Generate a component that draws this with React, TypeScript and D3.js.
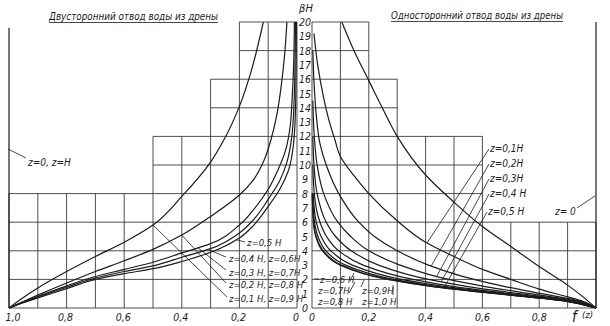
import React from "react";
import * as d3 from "d3";

// ---------- data ----------
const betaHTicks = [0, 1, 2, 3, 4, 5, 6, 7, 8, 9, 10, 11, 12, 13, 14, 15, 16, 17, 18, 19, 20];
const hGridLevels = [0, 2, 4, 6, 8, 10, 12, 14, 16, 18, 20];
const vGridLevels = [0, 0.1, 0.2, 0.3, 0.4, 0.5, 0.6, 0.7, 0.8, 0.9, 1.0];

// staircase grid: row tops (βH) and the f-extent of each row
const leftRowTops = [8, 12, 16, 20];
const leftRowWidths = [1.0, 0.5, 0.3, 0.2];
const rightRowTops = [6, 12, 16, 20];
const rightRowWidths = [1.0, 0.6, 0.3, 0.2];

const leftAxisTicks = [1.0, 0.8, 0.6, 0.4, 0.2, 0];
const leftAxisLabels = ["1,0", "0,8", "0,6", "0,4", "0,2", "0"];
const rightAxisTicks = [0, 0.2, 0.4, 0.6, 0.8];
const rightAxisLabels = ["0", "0,2", "0,4", "0,6", "0,8"];

const leftTitle = "Двусторонний отвод воды из дрены";
const rightTitle = "Односторонний отвод воды из дрены";

// curves: [f(z), βH]
// two-sided (left)
const L_z01 = [[1, 0], [0.96, 0.6], [0.9, 1.4], [0.8, 2.55], [0.7, 3.6], [0.6, 4.6], [0.5, 5.8], [0.4, 7.8], [0.3, 10.2], [0.25, 11.9], [0.2, 14.1], [0.16, 16.5], [0.117, 20]];
const L_z02 = [[1, 0], [0.95, 0.45], [0.9, 0.9], [0.8, 1.75], [0.7, 2.55], [0.6, 3.3], [0.5, 4.1], [0.4, 5.1], [0.3, 6.4], [0.2, 7.9], [0.15, 9.0], [0.115, 10.3], [0.09, 11.8], [0.07, 13.5], [0.055, 15.5], [0.043, 17.7], [0.035, 20]];
const L_z03 = [[1, 0], [0.95, 0.42], [0.9, 0.8], [0.8, 1.55], [0.7, 2.2], [0.6, 2.7], [0.5, 3.2], [0.4, 3.85], [0.3, 4.5], [0.2, 5.8], [0.15, 6.9], [0.1, 8.3], [0.065, 9.7], [0.04, 11], [0.025, 12.5], [0.016, 15], [0.011, 17.5], [0.009, 20]];
const L_z04 = [[1, 0], [0.95, 0.4], [0.9, 0.75], [0.8, 1.45], [0.7, 2.1], [0.6, 2.55], [0.5, 2.95], [0.4, 3.55], [0.3, 4.15], [0.2, 5.25], [0.15, 6.2], [0.1, 7.6], [0.06, 8.9], [0.035, 10.2], [0.018, 12], [0.01, 14.5], [0.007, 17], [0.005, 20]];
const L_z05 = [[1, 0], [0.95, 0.38], [0.9, 0.7], [0.8, 1.35], [0.7, 2.0], [0.6, 2.4], [0.5, 2.75], [0.4, 3.25], [0.3, 3.9], [0.2, 4.9], [0.15, 5.8], [0.1, 7.1], [0.06, 8.3], [0.03, 9.6], [0.012, 11.5], [0.005, 14], [0.003, 17], [0.002, 20]];
const L_z0 = [[1, 0], [1, 19.6]];

// one-sided (right)
const R_z01 = [[1, 0], [0.95, 0.85], [0.9, 1.6], [0.8, 2.9], [0.7, 4.3], [0.6, 5.7], [0.5, 7.4], [0.4, 9.3], [0.3, 12.0], [0.25, 13.9], [0.2, 15.9], [0.15, 17.9], [0.105, 20]];
const R_z02 = [[1, 0], [0.95, 0.5], [0.9, 0.78], [0.8, 1.32], [0.7, 2.0], [0.6, 2.7], [0.5, 3.6], [0.4, 4.6], [0.3, 6.1], [0.2, 8.0], [0.15, 9.2], [0.1, 10.6], [0.08, 11.8], [0.06, 13.1], [0.04, 14.8], [0.02, 17], [0.007, 19.2]];
const R_z03 = [[1, 0], [0.94, 0.5], [0.81, 1], [0.68, 1.5], [0.57, 2], [0.41, 3], [0.3, 4], [0.22, 5], [0.165, 6], [0.1, 7.8], [0.05, 10], [0.028, 11.5], [0.015, 13.5], [0.007, 15.8], [0.003, 18]];
const R_z04 = [[1, 0], [0.93, 0.5], [0.77, 1], [0.61, 1.5], [0.48, 2], [0.31, 3], [0.2, 4], [0.136, 5], [0.091, 6], [0.041, 8], [0.018, 10], [0.008, 12], [0.003, 14.5]];
const R_z05 = [[1, 0], [0.915, 0.5], [0.73, 1], [0.55, 1.5], [0.41, 2], [0.234, 3], [0.138, 4], [0.083, 5], [0.05, 6], [0.018, 8], [0.007, 10], [0.003, 12]];
const R_z06 = [[1, 0], [0.905, 0.5], [0.7, 1], [0.5, 1.5], [0.355, 2], [0.18, 3], [0.094, 4], [0.051, 5], [0.028, 6], [0.008, 8], [0.003, 10]];
const R_z07 = [[1, 0], [0.897, 0.5], [0.677, 1], [0.47, 1.5], [0.315, 2], [0.142, 3], [0.066, 4], [0.032, 5], [0.015, 6], [0.004, 8]];
const R_z08 = [[1, 0], [0.891, 0.5], [0.661, 1], [0.444, 1.5], [0.287, 2], [0.118, 3], [0.049, 4], [0.021, 5], [0.009, 6], [0.002, 8]];
const R_z09 = [[1, 0], [0.888, 0.5], [0.651, 1], [0.43, 1.5], [0.271, 2], [0.104, 3], [0.04, 4], [0.015, 5], [0.006, 6], [0.001, 8]];
const R_z10 = [[1, 0], [0.887, 0.5], [0.648, 1], [0.425, 1.5], [0.266, 2], [0.099, 3], [0.037, 4], [0.0135, 5], [0.005, 6], [0.001, 8]];
const R_z0 = [[1, 0], [1, 20]];

const leftCurves = [L_z0, L_z01, L_z02, L_z03, L_z04, L_z05];
const rightCurves = [R_z0, R_z01, R_z02, R_z03, R_z04, R_z05, R_z06, R_z07, R_z08, R_z09, R_z10];

// labels
const leftLabels = ["z=0,5 H", "z=0,4 H,  z=0,6H", "z=0,3 H,  z=0,7H", "z=0,2 H,  z=0,8 H", "z=0,1 H,  z=0,9 H"];
const rightLabels = ["z=0,1H", "z=0,2H", "z=0,3H", "z=0,4 H", "z=0,5 H"];
const rightBottomLabels = ["z=0,6 H", "z=0,7H", "z=0,8 H", "z=0,9H", "z=1,0 H"];

// ---------- layout ----------
const W = 610;
const H = 326;
const yS = d3.scaleLinear().domain([0, 20]).range([308, 22]);
const xL = d3.scaleLinear().domain([0, 1]).range([297, 9]);
const xR = d3.scaleLinear().domain([0, 1]).range([312, 596]);

const FONT = "'DejaVu Sans Condensed', 'Liberation Sans Narrow', 'DejaVu Sans', sans-serif";
const INK = "#1c1c1c";
const GRID = "#3a3a3a";

function hExtent(h: number, tops: number[], widths: number[]) {
  let w = 0;
  for (let i = 0; i < tops.length; i++) {
    const lo = i === 0 ? 0 : tops[i - 1];
    const hi = tops[i];
    if (h >= lo - 1e-9 && h <= hi + 1e-9) w = Math.max(w, widths[i]);
  }
  return w;
}
function vExtent(f: number, tops: number[], widths: number[]) {
  let t = 0;
  for (let i = 0; i < tops.length; i++) {
    if (widths[i] >= f - 1e-9) t = Math.max(t, tops[i]);
  }
  return t;
}

function Grid({ xs, tops, widths }: { xs: d3.ScaleLinear<number, number>; tops: number[]; widths: number[] }) {
  return (
    <g stroke={GRID} strokeWidth={0.9} fill="none">
      {hGridLevels.map((h) => (
        <line key={"h" + h} x1={xs(0)} x2={xs(hExtent(h, tops, widths))} y1={yS(h)} y2={yS(h)} />
      ))}
      {vGridLevels.map((f) => (
        <line key={"v" + f} x1={xs(f)} x2={xs(f)} y1={yS(0)} y2={yS(vExtent(f, tops, widths))} />
      ))}
    </g>
  );
}

function Curves({ xs, curves }: { xs: d3.ScaleLinear<number, number>; curves: number[][][] }) {
  const gen = d3
    .line<number[]>()
    .x((d) => xs(d[0]))
    .y((d) => yS(d[1]))
    .curve(d3.curveMonotoneY);
  return (
    <g stroke={INK} strokeWidth={1.2} fill="none">
      {curves.map((c, i) => {
        const pts = [...c].sort((a, b) => a[1] - b[1]);
        return <path key={i} d={gen(pts) || ""} />;
      })}
    </g>
  );
}

export default function App() {
  const leftLabelY = [246, 262, 276, 288, 302];
  const leftLeaders = [
    [[245, 242], [L_z05, 0.212]],
    [[226, 257], [L_z04, 0.309]],
    [[226, 270], [L_z03, 0.344]],
    [[226, 283], [L_z02, 0.4]],
    [[227, 297], [L_z01, 0.5]],
  ];
  const interpBH = (curve: number[][], f: number) => {
    const pts = [...curve].sort((a, b) => b[0] - a[0]);
    for (let i = 0; i < pts.length - 1; i++) {
      const [f0, b0] = pts[i];
      const [f1, b1] = pts[i + 1];
      if (f <= f0 && f >= f1) return b0 + ((f - f0) / (f1 - f0)) * (b1 - b0);
    }
    return 0;
  };
  const rightLabelY = [152, 167, 182, 197, 215];
  const rightLeaderEnds = [
    [R_z02, 0.405],
    [R_z03, 0.42],
    [R_z04, 0.44],
    [R_z05, 0.455],
    [R_z06, 0.47],
  ];

  const txt = { fontFamily: FONT, fontStyle: "italic" as const, fill: INK };

  return (
    <svg width={W} height={H} style={{ position: "absolute", left: 0, top: 0, background: "#fff" }}>
      <rect x={0} y={0} width={W} height={H} fill="#fff" />
      <Grid xs={xL} tops={leftRowTops} widths={leftRowWidths} />
      <Grid xs={xR} tops={rightRowTops} widths={rightRowWidths} />
      <Curves xs={xL} curves={leftCurves} />
      <Curves xs={xR} curves={rightCurves} />

      {/* titles */}
      <text x={49} y={20} {...txt} fontSize={10} textLength={169} lengthAdjust="spacingAndGlyphs">
        {leftTitle}
      </text>
      <line x1={49} x2={218} y1={22.5} y2={22.5} stroke={INK} strokeWidth={0.8} />
      <text x={391} y={19} {...txt} fontSize={10} textLength={172} lengthAdjust="spacingAndGlyphs">
        {rightTitle}
      </text>
      <line x1={391} x2={563} y1={21.5} y2={21.5} stroke={INK} strokeWidth={0.8} />

      {/* central βH axis labels */}
      <text x={306} y={12} {...txt} fontSize={11} textAnchor="middle">
        βH
      </text>
      {betaHTicks.map((v) => (
        <text key={v} x={305} y={yS(v) + 4} {...txt} fontSize={10.5} textAnchor="middle">
          {v}
        </text>
      ))}

      {/* bottom axis labels */}
      {leftAxisTicks.map((f, i) => (
        <text key={"la" + i} x={i === 0 ? 13 : xL(f) - 1} y={321} {...txt} fontSize={10.5} textAnchor="middle">
          {leftAxisLabels[i]}
        </text>
      ))}
      {rightAxisTicks.map((f, i) => (
        <text key={"ra" + i} x={xR(f)} y={321} {...txt} fontSize={10.5} textAnchor="middle">
          {rightAxisLabels[i]}
        </text>
      ))}
      <text x={572} y={322} {...txt} fontSize={15}>
        f
      </text>
      <text x={582} y={318} {...txt} fontSize={9.5}>
        (z)
      </text>

      {/* left labels */}
      <line x1={xL(1) - 1} y1={149} x2={26} y2={158} stroke={INK} strokeWidth={0.8} />
      <text x={28} y={166} {...txt} fontSize={10}>
        z=0,  z=H
      </text>
      {leftLabels.map((s, i) => (
        <text key={"ll" + i} x={i === 0 ? 247 : 229} y={leftLabelY[i]} {...txt} fontSize={9.5}>
          {s}
        </text>
      ))}
      <g stroke={INK} strokeWidth={0.8}>
        {leftLeaders.map((ld, i) => {
          const [start, [curve, f]] = ld as any;
          return (
            <line key={"lld" + i} x1={start[0]} y1={start[1]} x2={xL(f)} y2={yS(interpBH(curve, f))} />
          );
        })}
      </g>

      {/* right labels */}
      {rightLabels.map((s, i) => (
        <text key={"rl" + i} x={i === 4 ? 488 : 490} y={rightLabelY[i]} {...txt} fontSize={10}>
          {s}
        </text>
      ))}
      <g stroke={INK} strokeWidth={0.8}>
        {rightLeaderEnds.map((ld, i) => {
          const [curve, f] = ld as any;
          return (
            <line
              key={"rld" + i}
              x1={(i === 4 ? 487 : 489)}
              y1={rightLabelY[i] - 3}
              x2={xR(f)}
              y2={yS(interpBH(curve, f))}
            />
          );
        })}
        <line x1={577} y1={208} x2={xR(1) - 1} y2={196} />
        {/* bottom-right small leaders */}
        <line x1={314} y1={279} x2={319} y2={279} />
        <line x1={350} y1={281} x2={354} y2={273} />
        <line x1={349} y1={293} x2={355} y2={282} />
        <line x1={393} y1={285} x2={393} y2={295} />
        <line x1={361} y1={287} x2={364} y2={280} />
      </g>
      <text x={555} y={215} {...txt} fontSize={10}>
        z= 0
      </text>
      <text x={320} y={283} {...txt} fontSize={9.5}>
        {rightBottomLabels[0]}
      </text>
      <text x={318} y={294} {...txt} fontSize={9.5}>
        {rightBottomLabels[1]}
      </text>
      <text x={318} y={305} {...txt} fontSize={9.5}>
        {rightBottomLabels[2]}
      </text>
      <text x={362} y={294} {...txt} fontSize={9.5}>
        {rightBottomLabels[3]}
      </text>
      <text x={362} y={305} {...txt} fontSize={9.5}>
        {rightBottomLabels[4]}
      </text>
    </svg>
  );
}
